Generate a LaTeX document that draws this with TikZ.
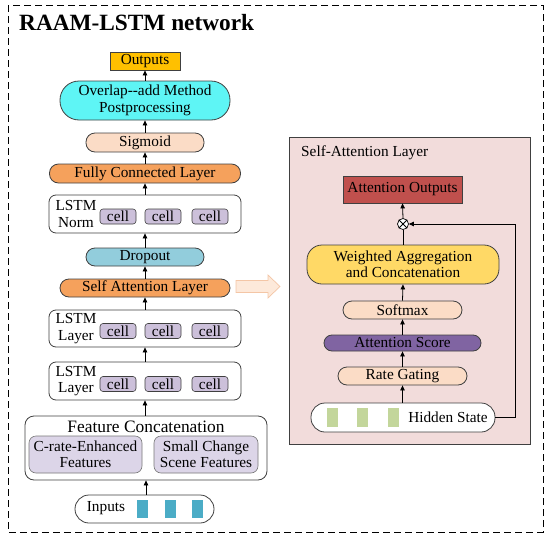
\documentclass[tikz,border=0pt]{standalone}
\usepackage{fontspec}
\setmainfont{Liberation Serif}
\usetikzlibrary{arrows.meta}
\definecolor{cOut}{HTML}{FFC000}
\definecolor{cCyan}{HTML}{5EF5F5}
\definecolor{cPeach}{HTML}{FBDCC6}
\definecolor{cOrange}{HTML}{F5A15C}
\definecolor{cDrop}{HTML}{92CDDC}
\definecolor{cCell}{HTML}{CCC0DA}
\definecolor{cFeat}{HTML}{DCD5E8}
\definecolor{cTeal}{HTML}{4BACC6}
\definecolor{cPanel}{HTML}{F2DCDB}
\definecolor{cRed}{HTML}{C0504D}
\definecolor{cYellow}{HTML}{FFD966}
\definecolor{cPurple}{HTML}{8064A2}
\definecolor{cGreen}{HTML}{C3D69B}
\definecolor{cEdge}{HTML}{404040}
\definecolor{cFat}{HTML}{FDE9DA}
\definecolor{cFatEdge}{HTML}{F4C6A6}
\begin{document}
\begin{tikzpicture}[x=1pt,y=-1pt,
  every node/.style={font=\fontsize{15.3}{16.5}\selectfont, inner sep=0pt, align=center},
  pill/.style={draw=cEdge, line width=0.8pt, rounded corners=9pt},
  cellbox/.style={draw=cEdge, line width=0.6pt, fill=cCell, rounded corners=3pt, minimum width=36pt, minimum height=15pt},
  bar/.style={fill=#1, minimum width=11pt, minimum height=18pt},
  arr/.style={-{Triangle[length=5pt,width=4.5pt]}, line width=0.8pt, black},
]
\useasboundingbox (0,0) rectangle (550,544);
% outer dashed frame
\draw[dash pattern=on 7pt off 4pt, line width=0.9pt] (8,5) rectangle (543,532);
\node[font=\fontsize{23.3}{25}\selectfont\bfseries, anchor=west] (title) at (19,23) {RAAM-LSTM network};

% left column
\node[draw=cEdge, line width=0.8pt, fill=cOut, minimum width=70pt, minimum height=18pt] (out) at (145,61) {Outputs};
\node[draw=cEdge, line width=0.8pt, fill=cCyan, rounded corners=19pt, minimum width=170pt, minimum height=39pt] (ola) at (145,100.5) {Overlap-{}-add Method\\Postprocessing};
\node[pill, fill=cPeach, minimum width=118pt, minimum height=19pt] (sig) at (145,142.5) {Sigmoid};
\node[pill, fill=cOrange, minimum width=191pt, minimum height=19pt] (fc) at (145,173.5) {Fully Connected Layer};

\node[draw=cEdge, line width=0.8pt, fill=white, rounded corners=7pt, minimum width=192pt, minimum height=38pt] (norm) at (145,214) {};
\node (normlab) at (76,214) {LSTM\\Norm};
\node[cellbox] (n1) at (118,216.5) {cell};
\node[cellbox] (n2) at (163,216.5) {cell};
\node[cellbox] (n3) at (210,216.5) {cell};

\node[pill, fill=cDrop, minimum width=118pt, minimum height=18pt] (drop) at (145,257) {Dropout};
\node[pill, fill=cOrange, minimum width=170pt, minimum height=18pt] (sal) at (145,288) {Self Attention Layer};

\node[draw=cEdge, line width=0.8pt, fill=white, rounded corners=7pt, minimum width=192pt, minimum height=37pt] (l1) at (145,328.5) {};
\node (l1lab) at (76,328.5) {LSTM\\Layer};
\node[cellbox] (a1) at (118,331) {cell};
\node[cellbox] (a2) at (163,331) {cell};
\node[cellbox] (a3) at (210,331) {cell};

\node[draw=cEdge, line width=0.8pt, fill=white, rounded corners=7pt, minimum width=192pt, minimum height=38pt] (l2) at (145,381) {};
\node (l2lab) at (76,381) {LSTM\\Layer};
\node[cellbox] (b1) at (118,384) {cell};
\node[cellbox] (b2) at (163,384) {cell};
\node[cellbox] (b3) at (210,384) {cell};

\node[draw=cEdge, line width=0.8pt, fill=white, rounded corners=9pt, minimum width=242pt, minimum height=64pt] (feat) at (146,448) {};
\node[font=\fontsize{17.4}{19}\selectfont] (featlab) at (146,426.5) {Feature Concatenation};
\node[draw=cEdge!70, line width=0.6pt, fill=cFeat, rounded corners=7pt, minimum width=113pt, minimum height=37pt] (crate) at (85.5,454.5) {C-rate-Enhanced\\Features};
\node[draw=cEdge!70, line width=0.6pt, fill=cFeat, rounded corners=7pt, minimum width=104pt, minimum height=37pt] (small) at (206,454.5) {Small Change\\Scene Features};

\node[draw=cEdge, line width=0.8pt, fill=white, rounded corners=14pt, minimum width=139pt, minimum height=28pt] (inp) at (144.5,509) {};
\node (inplab) at (106,508) {Inputs};
\node[bar=cTeal] (t1) at (142.5,509) {};
\node[bar=cTeal] (t2) at (170,509) {};
\node[bar=cTeal] (t3) at (197.5,509) {};

% left arrows
\draw[arr] (inp.north -| feat) -- (feat.south);
\draw[arr] (feat.north -| l2) -- (l2.south);
\draw[arr] (l2.north) -- (l1.south);
\draw[arr] (l1.north) -- (sal.south);
\draw[arr] (sal.north) -- (drop.south);
\draw[arr] (drop.north) -- (norm.south);
\draw[arr] (norm.north) -- (fc.south);
\draw[arr] (fc.north) -- (sig.south);
\draw[arr] (sig.north) -- (ola.south);
\draw[arr] (ola.north) -- (out.south);

% fat arrow
\draw[draw=cFatEdge, fill=cFat, line width=0.7pt, line join=miter]
  (236,280.5) -- (268,280.5) -- (268,275) -- (280,286.5) -- (268,298) -- (268,292.5) -- (236,292.5) -- cycle;

% right panel
\node[draw=cEdge, line width=0.9pt, fill=cPanel, minimum width=241pt, minimum height=307pt] (panel) at (409.5,290.5) {};
\node[anchor=west] (panlab) at (301,153) {Self-Attention Layer};
\node[draw=cEdge, line width=0.8pt, fill=cRed, minimum width=119pt, minimum height=27pt] (aout) at (402.5,189.5) {Attention Outputs};
\node[circle, draw=black, line width=0.7pt, fill=white, minimum size=11pt] (mul) at (403,224) {};
\draw[line width=0.9pt] (mul.north west) -- (mul.south east) (mul.north east) -- (mul.south west);
\node[draw=cEdge, line width=0.8pt, fill=cYellow, rounded corners=15pt, minimum width=192pt, minimum height=39pt] (wag) at (403,264.5) {Weighted Aggregation\\and Concatenation};
\node[pill, fill=cPeach, minimum width=119pt, minimum height=18pt] (soft) at (402.5,310) {Softmax};
\node[pill, fill=cPurple, rounded corners=8pt, minimum width=157pt, minimum height=16pt] (ascore) at (402.5,343) {Attention Score};
\node[pill, fill=cPeach, minimum width=129pt, minimum height=18pt] (rg) at (402.5,376) {Rate Gating};
\node[draw=cEdge, line width=0.8pt, fill=white, rounded corners=14pt, minimum width=184pt, minimum height=29pt] (hid) at (403,417.5) {};
\node (hidlab) at (448,417.5) {Hidden State};
\node[bar=cGreen, minimum height=19pt] (g1) at (332,417.5) {};
\node[bar=cGreen, minimum height=19pt] (g2) at (362,417.5) {};
\node[bar=cGreen, minimum height=19pt] (g3) at (393,417.5) {};
\coordinate (fbb) at (515,417.5);
\coordinate (fbt) at (515,224);

\draw[arr] (hid.north -| rg) -- (rg.south);
\draw[arr] (rg.north) -- (ascore.south);
\draw[arr] (ascore.north) -- (soft.south);
\draw[arr] (soft.north) -- (wag.south);
\draw[line width=0.8pt] (wag.north -| mul) -- (mul.south);
\draw[arr] (mul.north) -- (aout.south);
\draw[arr] (hid.east) -- (fbb) -- (fbt) -- (mul.east);
\end{tikzpicture}
\end{document}
